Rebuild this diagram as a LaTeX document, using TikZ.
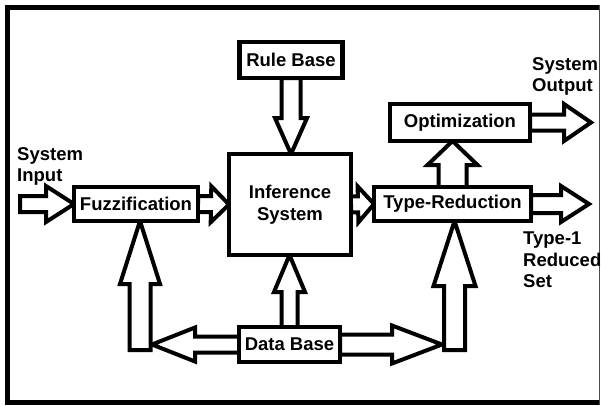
\documentclass[tikz,border=0pt]{standalone}
\usepackage{fontspec}
\setmainfont{Liberation Sans}
\usetikzlibrary{calc}
\pgfdeclarelayer{back}
\pgfsetlayers{back,main}
\newcommand\labfont{\fontsize{18.5}{21.5}\selectfont\bfseries}
% hollow block arrow: shaft half-width, head half-width, head length, from, to
\newcommand\blockarrow[5]{%
  \path (#4) coordinate (ba s) (#5) coordinate (ba e);
  \path ($(ba e)!#3!(ba s)$) coordinate (ba h);
  \draw[blk] ($(ba s)!#1!90:(ba e)$) -- ($(ba h)!#1!-90:(ba s)$)
    -- ($(ba h)!#2!-90:(ba s)$) -- (ba e) -- ($(ba h)!#2!90:(ba s)$)
    -- ($(ba h)!#1!90:(ba s)$) -- ($(ba s)!#1!-90:(ba e)$) -- cycle;
}
\begin{document}
\begin{tikzpicture}[x=1pt,y=-1pt,
  box/.style={draw=black, fill=white, line width=4.5pt, inner sep=0pt,
    outer sep=0pt, font=\labfont, align=center},
  blk/.style={draw=black, fill=white, line width=4pt, miter limit=20},
  txt/.style={font=\labfont, align=left, inner sep=0pt, anchor=north west}]
\useasboundingbox (0,0) rectangle (601,405);

% outer frame
\draw[line width=5pt] (599,7.5) -- (7.5,7.5) -- (7.5,402) -- (599,402);
\draw[line width=1.5pt, black!70] (599.5,5) -- (599.5,405);

% blocks
\node[box, minimum width=103pt, minimum height=36pt] (rb) at (291,60) {Rule Base};
\node[box, minimum width=122pt, minimum height=101pt] (inf) at (290,204.5) {Inference\\System};
\node[box, minimum width=124pt, minimum height=34pt] (fuzz) at (136,204) {Fuzzification};
\node[box, minimum width=157pt, minimum height=34pt] (tr) at (452.5,204) {Type-Reduction};
\node[box, minimum width=140pt, minimum height=37pt] (opt) at (460,122.5) {Optimization};
\node[box, minimum width=101pt, minimum height=35pt] (db) at (289.5,344.5) {Data Base};

% free ends of the connectors
\coordinate (in) at (20,204);
\coordinate (out1) at (589,204);
\coordinate (out2) at (591,122.5);
\coordinate (jl) at (140,350);
\coordinate (jr) at (454.5,350);
\coordinate (jltip) at (152,344.5);
\coordinate (jrtip) at (442,344.5);

% labels
\node[txt] (sin) at (17,147) {System\\Input};
\node[txt] (sout) at (532,57) {System\\Output};
\node[txt] (t1) at (523,232) {Type-1\\Reduced\\Set};

% connectors, kept behind the blocks
\begin{pgfonlayer}{back}
\blockarrow{8pt}{18pt}{28pt}{in}{fuzz.west}
\blockarrow{8pt}{18pt}{18pt}{fuzz.east}{inf.west}
\blockarrow{8pt}{18pt}{16pt}{inf.east}{tr.west}
\blockarrow{9pt}{18pt}{28pt}{tr.east}{out1}
\blockarrow{14pt}{25pt}{24pt}{tr.north}{tr.north |- opt.south}
\blockarrow{8pt}{18.5pt}{27pt}{opt.east}{out2}
\blockarrow{9.5pt}{16pt}{36pt}{rb.south}{rb.south |- inf.north}
\blockarrow{8pt}{15.5pt}{37pt}{db.north}{db.north |- inf.south}
\blockarrow{8pt}{17pt}{43pt}{db.west}{jltip}
\blockarrow{10pt}{19pt}{50pt}{db.east}{jrtip}
\blockarrow{10.5pt}{20pt}{63pt}{jl}{jl |- fuzz.south}
\blockarrow{10.5pt}{21pt}{65pt}{jr}{jr |- tr.south}
\end{pgfonlayer}
\end{tikzpicture}
\end{document}
